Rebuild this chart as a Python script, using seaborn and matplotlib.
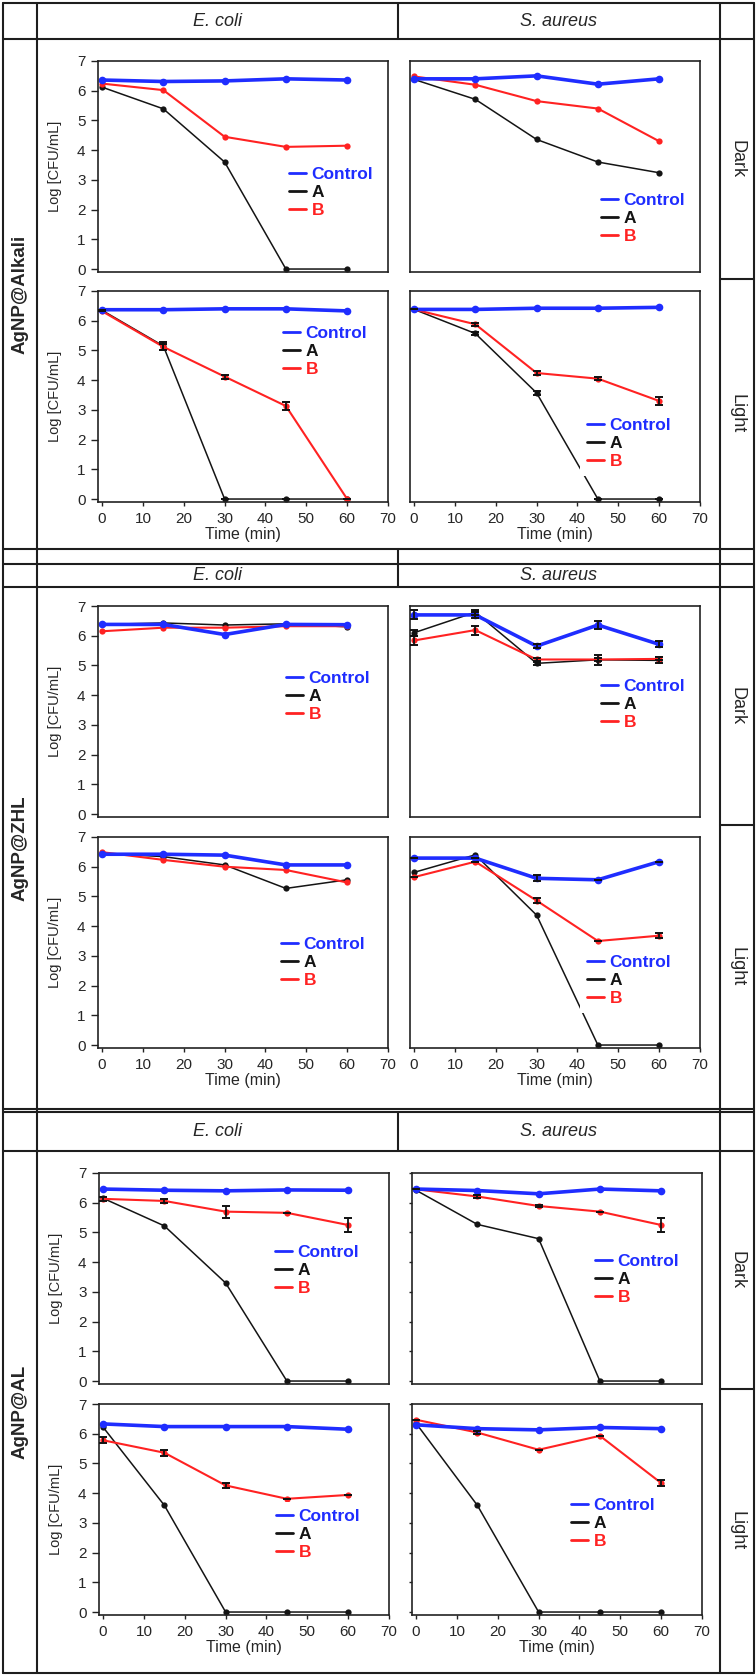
import matplotlib
matplotlib.use('Agg')
import matplotlib.pyplot as plt
from matplotlib.lines import Line2D
import seaborn as sns

# ---- data ----
TIME = [0, 15, 30, 45, 60]
SERIES = ['Control', 'A', 'B']

# AgNP@Alkali
ALK_EC_DARK_CTRL = [6.36, 6.31, 6.33, 6.40, 6.36]
ALK_EC_DARK_A = [6.12, 5.39, 3.60, 0, 0]
ALK_EC_DARK_B = [6.24, 6.02, 4.45, 4.11, 4.15]
ALK_SA_DARK_CTRL = [6.40, 6.40, 6.50, 6.22, 6.40]
ALK_SA_DARK_A = [6.38, 5.71, 4.36, 3.60, 3.24]
ALK_SA_DARK_B = [6.48, 6.20, 5.65, 5.40, 4.30]
ALK_EC_LIGHT_CTRL = [6.37, 6.37, 6.40, 6.40, 6.33]
ALK_EC_LIGHT_A = [6.35, 5.15, 0, 0, 0]
ALK_EC_LIGHT_B = [6.32, 5.12, 4.12, 3.13, 0]
ALK_EC_LIGHT_A_ERR = [0, 0.15, 0, 0, 0]
ALK_EC_LIGHT_B_ERR = [0, 0.10, 0.07, 0.15, 0]
ALK_SA_LIGHT_CTRL = [6.38, 6.38, 6.42, 6.42, 6.45]
ALK_SA_LIGHT_A = [6.38, 5.57, 3.57, 0, 0]
ALK_SA_LIGHT_B = [6.38, 5.88, 4.24, 4.05, 3.30]
ALK_SA_LIGHT_A_ERR = [0, 0.06, 0.06, 0, 0]
ALK_SA_LIGHT_B_ERR = [0, 0.05, 0.07, 0.05, 0.15]

# AgNP@ZHL
ZHL_EC_DARK_CTRL = [6.38, 6.38, 6.04, 6.38, 6.37]
ZHL_EC_DARK_A = [6.38, 6.43, 6.36, 6.40, 6.30]
ZHL_EC_DARK_B = [6.15, 6.27, 6.27, 6.32, 6.32]
ZHL_SA_DARK_CTRL = [6.70, 6.70, 5.65, 6.36, 5.71]
ZHL_SA_DARK_A = [6.10, 6.79, 5.07, 5.19, 5.17]
ZHL_SA_DARK_B = [5.84, 6.19, 5.20, 5.20, 5.22]
ZHL_SA_DARK_CTRL_ERR = [0.15, 0.10, 0.08, 0.15, 0.10]
ZHL_SA_DARK_A_ERR = [0.10, 0.08, 0.05, 0.17, 0.10]
ZHL_SA_DARK_B_ERR = [0.15, 0.15, 0.05, 0.05, 0.05]
ZHL_EC_LIGHT_CTRL = [6.42, 6.42, 6.39, 6.06, 6.06]
ZHL_EC_LIGHT_A = [6.45, 6.34, 6.06, 5.27, 5.56]
ZHL_EC_LIGHT_B = [6.49, 6.23, 6.00, 5.89, 5.47]
ZHL_SA_LIGHT_CTRL = [6.29, 6.29, 5.61, 5.56, 6.17]
ZHL_SA_LIGHT_A = [5.81, 6.40, 4.37, 0, 0]
ZHL_SA_LIGHT_B = [5.65, 6.17, 4.86, 3.50, 3.68]
ZHL_SA_LIGHT_CTRL_ERR = [0, 0, 0.10, 0, 0]
ZHL_SA_LIGHT_B_ERR = [0, 0, 0.08, 0, 0.08]

# AgNP@AL
AL_EC_DARK_CTRL = [6.46, 6.42, 6.40, 6.43, 6.42]
AL_EC_DARK_A = [6.15, 5.22, 3.30, 0, 0]
AL_EC_DARK_B = [6.13, 6.06, 5.70, 5.66, 5.25]
AL_EC_DARK_B_ERR = [0.06, 0.08, 0.20, 0, 0.25]
AL_SA_DARK_CTRL = [6.46, 6.41, 6.30, 6.46, 6.40]
AL_SA_DARK_A = [6.42, 5.27, 4.79, 0, 0]
AL_SA_DARK_B = [6.45, 6.21, 5.89, 5.70, 5.25]
AL_SA_DARK_B_ERR = [0, 0.06, 0.05, 0, 0.25]
AL_EC_LIGHT_CTRL = [6.33, 6.24, 6.24, 6.24, 6.15]
AL_EC_LIGHT_A = [6.22, 3.59, 0, 0, 0]
AL_EC_LIGHT_B = [5.78, 5.36, 4.26, 3.81, 3.94]
AL_EC_LIGHT_B_ERR = [0.10, 0.10, 0.07, 0, 0]
AL_SA_LIGHT_CTRL = [6.30, 6.17, 6.13, 6.21, 6.17]
AL_SA_LIGHT_A = [6.35, 3.59, 0, 0, 0]
AL_SA_LIGHT_B = [6.47, 6.04, 5.46, 5.93, 4.34]
AL_SA_LIGHT_B_ERR = [0, 0.05, 0, 0, 0.10]

BLOCKS = ['AgNP@Alkali', 'AgNP@ZHL', 'AgNP@AL']
SPECIES = ['E. coli', 'S. aureus']
CONDITIONS = ['Dark', 'Light']

# (block, species, condition) -> (control, A, B), with optional errors
PANELS = {
    (0, 0, 0): (ALK_EC_DARK_CTRL, ALK_EC_DARK_A, ALK_EC_DARK_B),
    (0, 1, 0): (ALK_SA_DARK_CTRL, ALK_SA_DARK_A, ALK_SA_DARK_B),
    (0, 0, 1): (ALK_EC_LIGHT_CTRL, ALK_EC_LIGHT_A, ALK_EC_LIGHT_B),
    (0, 1, 1): (ALK_SA_LIGHT_CTRL, ALK_SA_LIGHT_A, ALK_SA_LIGHT_B),
    (1, 0, 0): (ZHL_EC_DARK_CTRL, ZHL_EC_DARK_A, ZHL_EC_DARK_B),
    (1, 1, 0): (ZHL_SA_DARK_CTRL, ZHL_SA_DARK_A, ZHL_SA_DARK_B),
    (1, 0, 1): (ZHL_EC_LIGHT_CTRL, ZHL_EC_LIGHT_A, ZHL_EC_LIGHT_B),
    (1, 1, 1): (ZHL_SA_LIGHT_CTRL, ZHL_SA_LIGHT_A, ZHL_SA_LIGHT_B),
    (2, 0, 0): (AL_EC_DARK_CTRL, AL_EC_DARK_A, AL_EC_DARK_B),
    (2, 1, 0): (AL_SA_DARK_CTRL, AL_SA_DARK_A, AL_SA_DARK_B),
    (2, 0, 1): (AL_EC_LIGHT_CTRL, AL_EC_LIGHT_A, AL_EC_LIGHT_B),
    (2, 1, 1): (AL_SA_LIGHT_CTRL, AL_SA_LIGHT_A, AL_SA_LIGHT_B),
}
ERRORS = {
    (0, 0, 1): (None, ALK_EC_LIGHT_A_ERR, ALK_EC_LIGHT_B_ERR),
    (0, 1, 1): (None, ALK_SA_LIGHT_A_ERR, ALK_SA_LIGHT_B_ERR),
    (1, 1, 0): (ZHL_SA_DARK_CTRL_ERR, ZHL_SA_DARK_A_ERR, ZHL_SA_DARK_B_ERR),
    (1, 1, 1): (ZHL_SA_LIGHT_CTRL_ERR, None, ZHL_SA_LIGHT_B_ERR),
    (2, 0, 0): (None, None, AL_EC_DARK_B_ERR),
    (2, 1, 0): (None, None, AL_SA_DARK_B_ERR),
    (2, 0, 1): (None, None, AL_EC_LIGHT_B_ERR),
    (2, 1, 1): (None, None, AL_SA_LIGHT_B_ERR),
}

# ---- styling / layout (figure pixels) ----
COLORS = {'Control': '#1f2dff', 'A': '#141414', 'B': '#ff2222'}
WIDTHS = {'Control': 2.6, 'A': 1.1, 'B': 1.5}
MSIZE = {'Control': 5.5, 'A': 4.5, 'B': 4.5}
DRAW_ORDER = ['A', 'B', 'Control']
LINE_C = '#1e1e1e'

W_PX, H_PX = 756, 1677
AX_W, AX_H = 290, 211
BLOCK_X = [(98, 410), (98, 410), (99, 412)]
BLOCK_ROWS = [(61, 291), (606, 837), (1173, 1404)]
HEADER_Y = [21, 575, 1131]
BODY_Y = [294, 848, 1412]
RIGHT_CELLS = [((39, 279), (279, 549)), ((587, 825), (825, 1109)), ((1151, 1389), (1389, 1673))]
LEGEND_PX = {
    (0, 0, 0): (289, 175), (0, 1, 0): (601, 201), (0, 0, 1): (283, 334), (0, 1, 1): (587, 426),
    (1, 0, 0): (286, 679), (1, 1, 0): (601, 687), (1, 0, 1): (281, 945), (1, 1, 1): (587, 963),
    (2, 0, 0): (275, 1253), (2, 1, 0): (595, 1262), (2, 0, 1): (276, 1517), (2, 1, 1): (571, 1506),
}

sns.set_theme(style='ticks')
plt.rcParams['font.family'] = ['Liberation Sans', 'DejaVu Sans']


def fx(x):
    return x / W_PX


def fy(y):
    return 1 - y / H_PX


def hline(fig, y, x0=3, x1=754, lw=1.5):
    fig.add_artist(Line2D([fx(x0), fx(x1)], [fy(y), fy(y)], transform=fig.transFigure,
                          color=LINE_C, lw=lw))


def vline(fig, x, y0, y1, lw=1.5):
    fig.add_artist(Line2D([fx(x), fx(x)], [fy(y0), fy(y1)], transform=fig.transFigure,
                          color=LINE_C, lw=lw))


def draw_panel(fig, key):
    b, s, c = key
    left = BLOCK_X[b][s]
    top = BLOCK_ROWS[b][c]
    ax = fig.add_axes([fx(left), fy(top + AX_H), AX_W / W_PX, AX_H / H_PX])
    vals = dict(zip(SERIES, PANELS[key]))
    errs = dict(zip(SERIES, ERRORS.get(key, (None, None, None))))
    for name in DRAW_ORDER:
        sns.lineplot(x=TIME, y=vals[name], ax=ax, color=COLORS[name], lw=WIDTHS[name],
                     marker='o', markersize=MSIZE[name], markeredgewidth=0, legend=False)
        if errs[name] is not None:
            ax.errorbar(TIME, vals[name], yerr=errs[name], fmt='none', ecolor='#111111',
                        elinewidth=1.3, capsize=2.8, capthick=1.4, zorder=4)
    ax.set_xlim(-1, 70)
    ax.set_ylim(-0.1, 7)
    for sp in ax.spines.values():
        sp.set_visible(True)
        sp.set_color('#222222')
        sp.set_linewidth(1.2)
    ax.set_facecolor('white')

    if s == 0:
        ax.set_yticks(range(0, 8))
        ax.tick_params(axis='y', length=5, width=1, pad=4, labelsize=11, color='#222222')
        ax.set_ylabel('Log [CFU/mL]', fontsize=10.5)
        ax.yaxis.set_label_coords(-0.125, 0.5)
    else:
        ax.set_yticks(range(0, 8))
        ax.set_yticklabels([])
        ax.tick_params(axis='y', length=2 if b == 2 else 0, width=1, color='#222222')
        ax.set_ylabel('')

    if c == 1:
        ax.set_xticks(range(0, 71, 10))
        ax.tick_params(axis='x', length=3, width=1, pad=4, labelsize=11, color='#222222')
        ax.set_xlabel('Time (min)', fontsize=11.5)
        ax.xaxis.set_label_coords(0.5, -0.12)
    else:
        ax.set_xticks([])
        ax.set_xlabel('')

    handles = [Line2D([], [], color=COLORS[n], lw=2.0) for n in SERIES]
    lx, ly = LEGEND_PX[key]
    leg = ax.legend(handles, SERIES, loc='upper left',
                    bbox_to_anchor=(fx(lx - 7), fy(ly - 15)), bbox_transform=fig.transFigure,
                    prop={'weight': 'bold', 'size': 12.5}, labelcolor='linecolor',
                    handlelength=1.0, handletextpad=0.3, labelspacing=0.15,
                    borderpad=0.4, borderaxespad=0, frameon=True, facecolor='white',
                    edgecolor='none', framealpha=1, fancybox=False)
    leg.set_zorder(6)
    return ax


fig = plt.figure(figsize=(7.56, 16.77), dpi=100)
fig.patch.set_facecolor('white')

for key in PANELS:
    draw_panel(fig, key)

# table grid
for x in (3, 37, 720, 754):
    vline(fig, x, 3, 1673)
vline(fig, 398, 3, 39)
vline(fig, 398, 549, 587)
vline(fig, 398, 1112, 1151)
for y in (3, 39, 549, 564, 587, 1109, 1112, 1151, 1673):
    hline(fig, y)
for y in (279, 825, 1389):
    hline(fig, y, 720, 754)

# headers and row labels
for b, block in enumerate(BLOCKS):
    fig.text(fx(217.5), fy(HEADER_Y[b]), SPECIES[0], style='italic', fontsize=13,
             ha='center', va='center')
    fig.text(fx(559), fy(HEADER_Y[b]), SPECIES[1], style='italic', fontsize=13,
             ha='center', va='center')
    fig.text(fx(20), fy(BODY_Y[b]), block, rotation=90, fontweight='bold', fontsize=13.5,
             ha='center', va='center')
    for c, cond in enumerate(CONDITIONS):
        y0, y1 = RIGHT_CELLS[b][c]
        fig.text(fx(737), fy((y0 + y1) / 2), cond, rotation=270, fontsize=13,
                 ha='center', va='center')

fig.savefig('out.png', dpi=100, facecolor='white')
